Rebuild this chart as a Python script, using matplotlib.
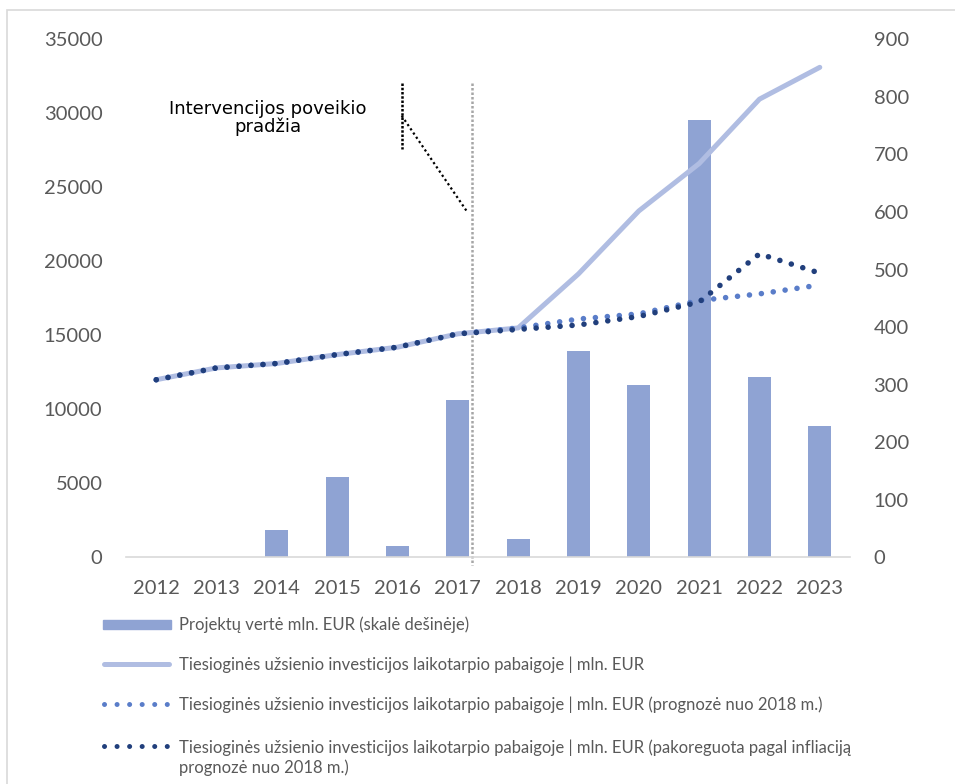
import numpy as np
import matplotlib
matplotlib.use("Agg")
import matplotlib.pyplot as plt
from matplotlib.lines import Line2D
from matplotlib.patches import Rectangle

# duomenys
years = ["2012", "2013", "2014", "2015", "2016", "2017",
         "2018", "2019", "2020", "2021", "2022", "2023"]
projektai = [0, 0, 47, 140, 20, 273, 32, 359, 300, 760, 314, 228]          # mln. EUR (desine skale)
tui = [12000, 12800, 13100, 13700, 14200, 15100,
       15500, 19150, 23400, 26600, 30950, 33100]
tui_progn = [12000, 12800, 13100, 13700, 14200, 15100,
             15500, 16100, 16450, 17350, 17800, 18400]
tui_infl = [12000, 12800, 13100, 13700, 14200, 15100,
            15400, 15700, 16270, 17250, 20500, 19200]

lbl_bar = "Projektų vertė mln. EUR (skalė dešinėje)"
lbl_tui = "Tiesioginės užsienio investicijos laikotarpio pabaigoje | mln. EUR"
lbl_progn = "Tiesioginės užsienio investicijos laikotarpio pabaigoje | mln. EUR (prognozė nuo 2018 m.)"
lbl_infl = ("Tiesioginės užsienio investicijos laikotarpio pabaigoje | mln. EUR (pakoreguota pagal infliaciją\n"
            "prognozė nuo 2018 m.)")

c_bar = "#8FA3D3"
st_tui = dict(color="#B0BDE2", lw=3.6, solid_capstyle="round")
st_progn = dict(color="#5A7DC9", lw=4.0, ls=(0, (0.01, 2.15)), dash_capstyle="round")
st_infl = dict(color="#213F7C", lw=4.0, ls=(0, (0.01, 2.15)), dash_capstyle="round")
grey = "#595959"
tick_font = ["Lato", "DejaVu Sans"]
leg_font = ["Lato", "DejaVu Sans"]

fig = plt.figure(figsize=(9.55, 7.84), dpi=100)
ax = fig.add_axes([0.132, 0.289, 0.758, 0.661])
ax2 = ax.twinx()
x = np.arange(len(years))

ax2.bar(x, projektai, width=0.38, color=c_bar)
ax.plot(x, tui, **st_tui)
ax.plot(x, tui_progn, **st_progn)
ax.plot(x, tui_infl, **st_infl)

# linijos virs stulpeliu
ax.set_zorder(ax2.get_zorder() + 1)
ax.patch.set_visible(False)

ax.set_xlim(-0.5, 11.5)
ax.set_ylim(0, 35000)
ax2.set_ylim(0, 900)
ax.set_yticks(np.arange(0, 35001, 5000))
ax2.set_yticks(np.arange(0, 901, 100))
ax.set_xticks(x)
ax.set_xticklabels(years)

for a in (ax, ax2):
    for s in a.spines.values():
        s.set_visible(False)
    a.tick_params(length=0, labelsize=14.5, labelcolor=grey)
    for t in a.get_xticklabels() + a.get_yticklabels():
        t.set_family(tick_font)
ax.spines["bottom"].set_visible(True)
ax.spines["bottom"].set_color("#D9D9D9")
ax.spines["bottom"].set_linewidth(1.2)
ax.tick_params(axis="x", pad=16)
ax.tick_params(axis="y", pad=17)
ax2.tick_params(axis="y", pad=17)

# intervencijos pradzia
ax.plot([5.24, 5.24], [32050, -520], color="#A6A6A6", lw=1.8,
        ls=(0, (1, 0.8)), clip_on=False, zorder=1)
ax.plot([4.07, 4.07], [32050, 27600], color="black", lw=1.8, ls=(0, (1, 0.7)))
ax.plot([4.07, 5.14], [29830, 23430], color="black", lw=1.6, ls=(0, (1, 1.3)))
ax.text(1.85, 29690, "Intervencijos poveikio\npradžia", ha="center", va="center",
        fontsize=13, family="DejaVu Sans", linespacing=1.0)

# legenda
rows = [624, 664, 704, 746]
H = 784.0
W = 955.0
x0, x1, xt = 103 / W, 171 / W, 179 / W
fig.add_artist(Rectangle((x0, 1 - 628.5 / H), x1 - x0, 9 / H, color=c_bar,
                         transform=fig.transFigure))
fig.add_artist(Line2D([x0 + 1 / W, x1 - 2 / W], [1 - rows[1] / H] * 2,
                      transform=fig.transFigure, **st_tui))
for r, st in zip(rows[2:], (st_progn, st_infl)):
    leg_st = dict(st, lw=3.6, ls=(0, (0.01, 2.5)))
    fig.add_artist(Line2D([x0 + 1 / W, 168 / W], [1 - r / H] * 2,
                          transform=fig.transFigure, **leg_st))
for r, lbl in zip(rows, (lbl_bar, lbl_tui, lbl_progn, lbl_infl)):
    # baseline taikomas paskutinei eilutei
    extra = 21 * lbl.count("\n")
    fig.text(xt, 1 - (r + 6 + extra) / H, lbl, ha="left", va="baseline",
             fontsize=12, color=grey, family=leg_font, linespacing=1.25)

# remelis
fig.add_artist(Rectangle((7 / W, -0.05), 1.2, 1.05 - 10 / H,
                         fill=False, edgecolor="#D9D9D9", lw=1.2,
                         transform=fig.transFigure))

fig.savefig("out.png", dpi=100)
